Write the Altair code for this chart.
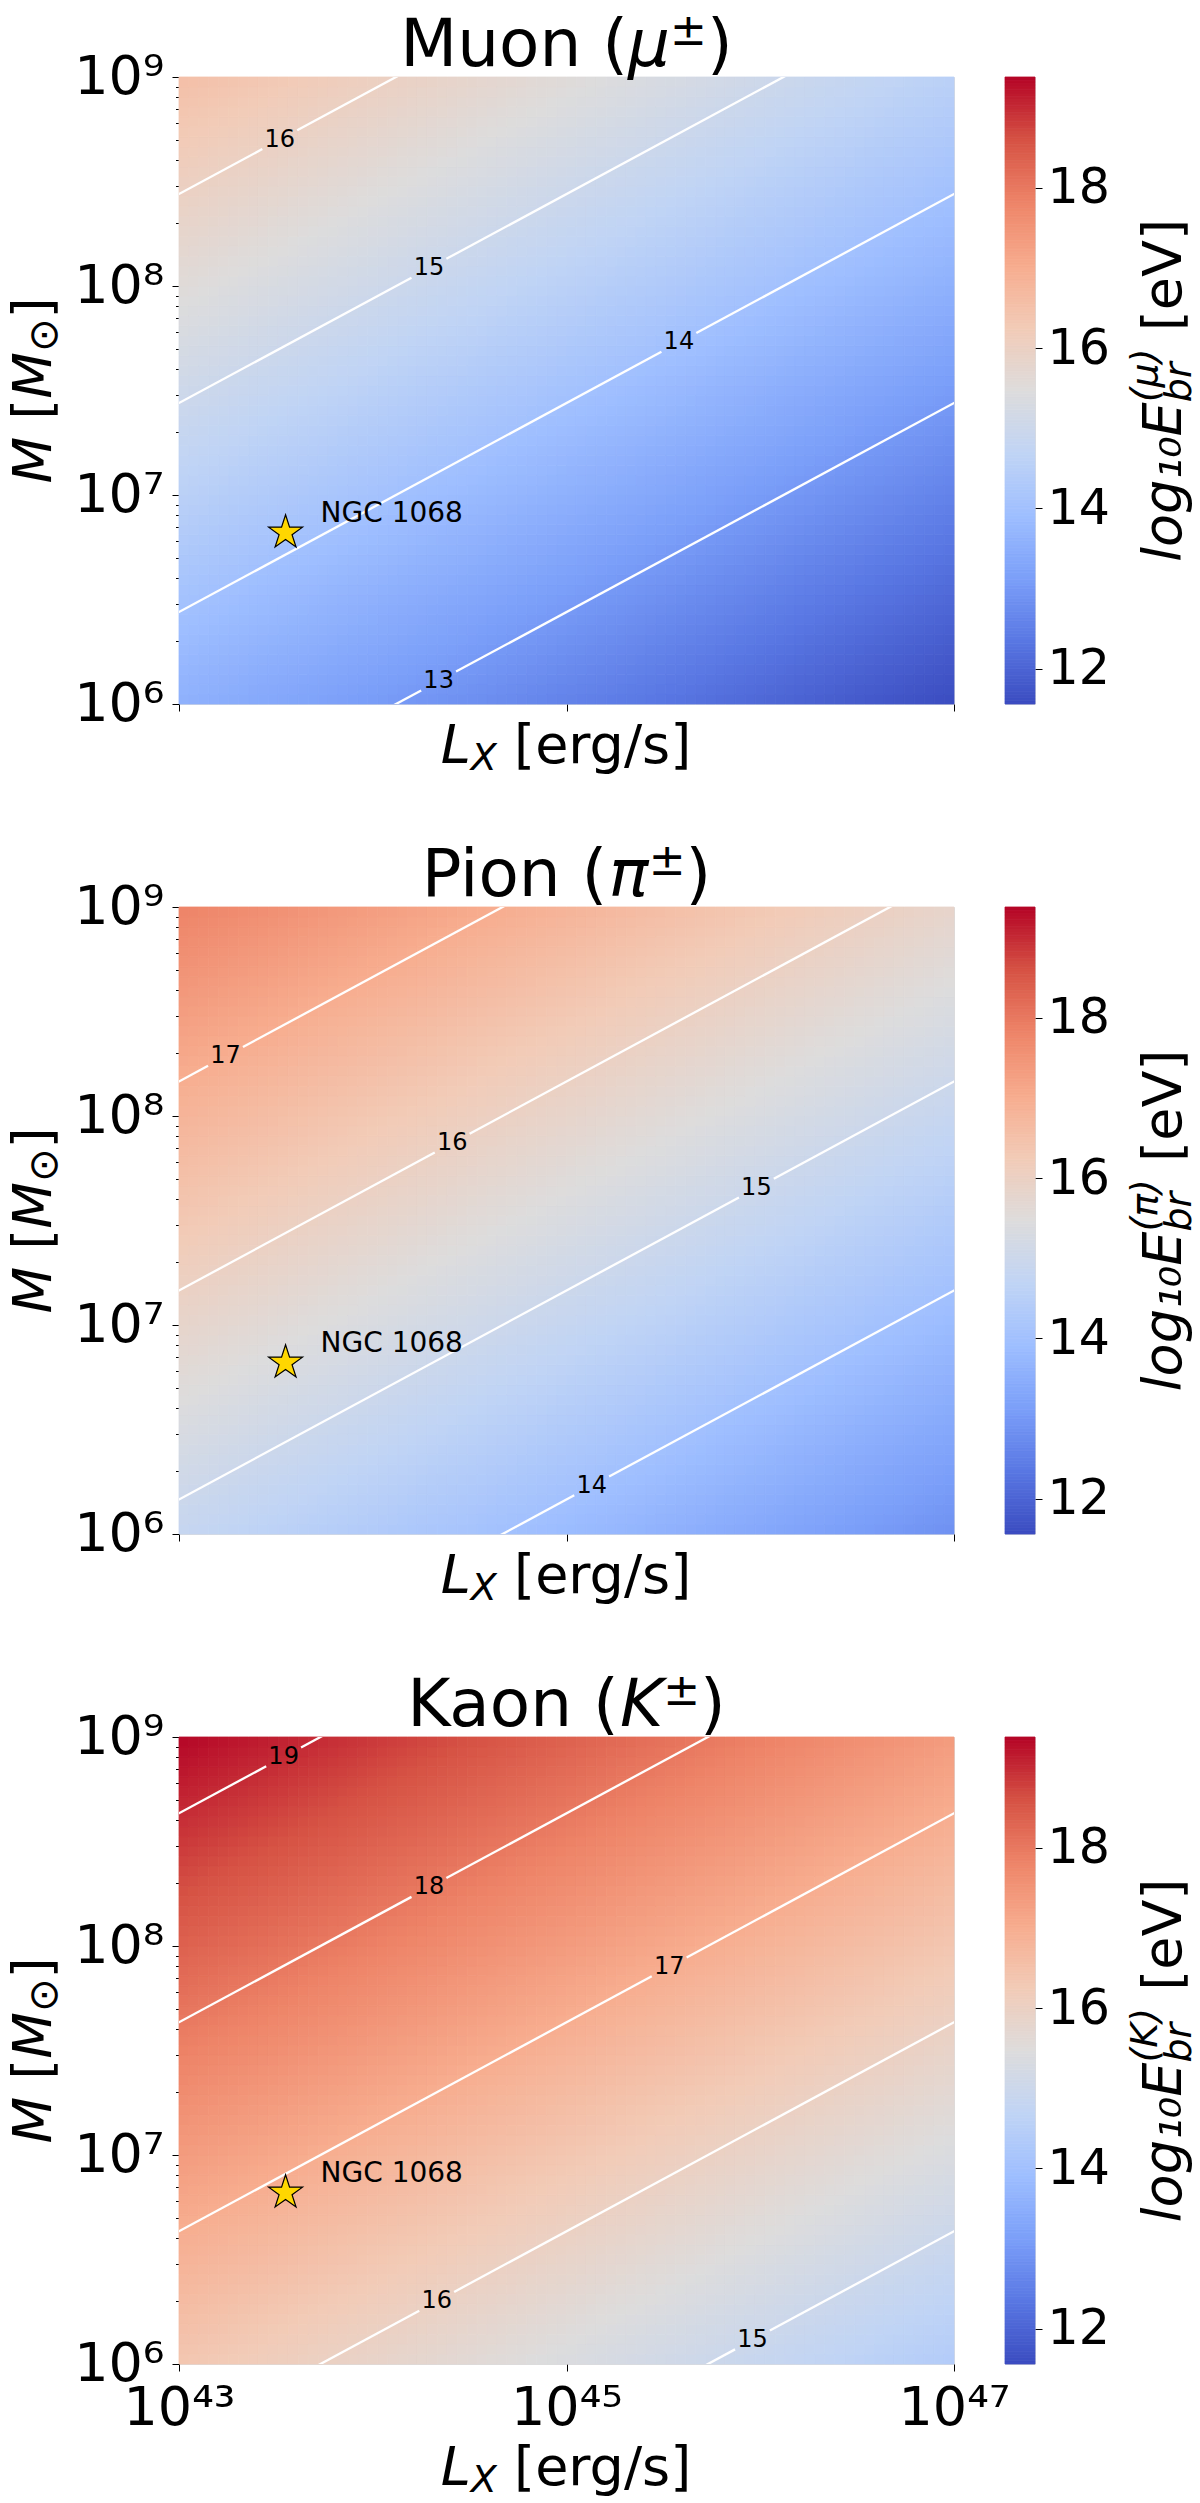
import altair as alt
import numpy as np
import pandas as pd

# ------------------------------------------------------------------ values
PANEL_NAMES = ["Muon", "Pion", "Kaon"]
PANEL_SYMBOLS = ["μ", "π", "K"]
LOGLX_RANGE = [43.0, 47.0]
LOGM_RANGE = [6.0, 9.0]
# log10 E_br at the top-left corner (L_X = 1e43 erg/s, M = 1e9 Msun)
E_AT_CORNER = [16.56, 17.835, 19.365]
DE_PER_DEX_M = 1.0     # contour levels are one decade of M apart
DE_PER_DEX_LX = -0.5   # contour slope
CONTOUR_LEVELS = [[13, 14, 15, 16], [14, 15, 16, 17], [15, 16, 17, 18, 19]]
CONTOUR_LABEL_LOGLX = [[44.34, 45.58, 44.29, 43.52],
                       [45.13, 45.98, 44.41, 43.24],
                       [45.96, 44.33, 45.53, 44.29, 43.54]]
SOURCE_NAME = ["NGC 1068"]
SOURCE_LOGLX = [43.55]
SOURCE_LOGM = [6.82]
X_TICKS = [43, 45, 47]
X_TICK_LABELS = ["10⁴³", "10⁴⁵", "10⁴⁷"]
Y_TICKS = [6, 7, 8, 9]
Y_TICK_LABELS = ["10⁶", "10⁷", "10⁸", "10⁹"]
Y_MINOR_MULT = [2, 3, 4, 5, 6, 7, 8, 9]
CBAR_TICKS = [12, 14, 16, 18]
CBAR_RANGE = [11.56, 19.38]
COOLWARM = ['#3b4cc0', '#5977e3', '#7b9ff9', '#9ebeff', '#c0d4f5', '#dddcdc',
            '#f2cbb7', '#f7ac8e', '#ee8468', '#d65244', '#b40426']

# ------------------------------------------------------------------ layout / style
FONT = "DejaVu Sans"
W, H = 775, 627
CB_W = 30
COL_GAP = 51
ROW_GAP = 203
TITLE_SIZE, SUP_SIZE = 66, 44
LABEL_SIZE, SUB_SIZE = 54, 38
CB_TICK_SIZE = 49
NX, NY = 78, 63
GAP = 0.09  # gap in the contour line around its label (dex of L_X)
STAR = ("M0,-1L0.2245,-0.309L0.951,-0.309L0.3633,0.118L0.588,0.809L0,0.382"
        "L-0.588,0.809L-0.3633,0.118L-0.951,-0.309L-0.2245,-0.309Z")

WIDTHS = {'M': .863, 'u': .634, 'o': .612, 'n': .634, ' ': .318, '(': .390, ')': .390,
          'P': .603, 'i': .278, 'K': .656, 'a': .613, 'μ': .636, 'π': .603, '±': .838,
          'L': .557, 'X': .685, '[': .390, ']': .390, 'e': .615, 'r': .411, 'g': .635,
          '/': .337, 's': .521, 'V': .684, 'l': .278, 'E': .632, 'b': .635, '₁': .401,
          '₀': .401, '⊙': .838}


def text_width(s, size):
    return sum(WIDTHS.get(ch, 0.6) for ch in s) * size


def e_field(i, logl, logm):
    return E_AT_CORNER[i] + DE_PER_DEX_M * (logm - 9.0) + DE_PER_DEX_LX * (logl - 43.0)


def m_on_contour(i, level, logl):
    return 9.0 + (level - E_AT_CORNER[i] - DE_PER_DEX_LX * (logl - 43.0)) / DE_PER_DEX_M


color_scale = alt.Scale(
    domain=[float(v) for v in np.linspace(CBAR_RANGE[0], CBAR_RANGE[1], len(COOLWARM))],
    range=COOLWARM, interpolate="rgb")

one = pd.DataFrame({"k": [0]})


def text_mark(text, x, y, size, italic=False, angle=0):
    kw = dict(text=text, font=FONT, fontSize=size, color="black", align="left",
              baseline="alphabetic")
    if italic:
        kw["fontStyle"] = "italic"
    if angle:
        kw["angle"] = angle
    return alt.Chart(one).mark_text(**kw).encode(x=alt.value(x), y=alt.value(y))


def piece_advance(p):
    text, size, italic, shift, adv = p
    return text_width(text, size) if adv is None else adv


def pieces_marks(pieces, x0, y0, rotated=False):
    out, pos = [], 0.0
    for p in pieces:
        text, size, italic, shift, adv = p
        stripped = text.lstrip(" ")
        lead = (len(text) - len(stripped)) * WIDTHS[" "] * size
        if rotated:
            out.append(text_mark(stripped, x0 + shift, y0 - pos - lead, size, italic, angle=270))
        else:
            out.append(text_mark(stripped, x0 + pos + lead, y0 + shift, size, italic))
        pos += piece_advance(p)
    return out


def total_advance(pieces):
    return sum(piece_advance(p) for p in pieces)


def label_expr(values, labels):
    expr = "''"
    for v, lab in reversed(list(zip(values, labels))):
        expr = f"datum.value === {v} ? '{lab}' : ({expr})"
    return expr


y_values = sorted([float(v) for v in Y_TICKS] +
                  [float(np.log10(k) + n) for n in Y_TICKS[:-1] for k in Y_MINOR_MULT])

xs = alt.Scale(domain=LOGLX_RANGE, nice=False, zero=False)
ys = alt.Scale(domain=LOGM_RANGE, nice=False, zero=False)


def main_panel(i, show_xlabels):
    xaxis = alt.Axis(values=X_TICKS, labels=show_xlabels,
                     labelExpr=label_expr(X_TICKS, X_TICK_LABELS),
                     labelFont=FONT, labelFontSize=LABEL_SIZE, labelColor="black",
                     labelPadding=10, labelFlush=False, labelOverlap=False,
                     tickSize=7, tickColor="black", tickWidth=1,
                     domain=False, grid=False, title=None)
    yaxis = alt.Axis(values=y_values, labelExpr=label_expr(Y_TICKS, Y_TICK_LABELS),
                     labelFont=FONT, labelFontSize=LABEL_SIZE, labelColor="black",
                     labelPadding=8, labelFlush=False, labelOverlap=False,
                     tickSize={"condition": {"test": "datum.value % 1 === 0", "value": 7},
                               "value": 3.5},
                     tickColor="black", tickWidth=1, domain=False, grid=False, title=None)

    # heat map cells
    le = np.linspace(LOGLX_RANGE[0], LOGLX_RANGE[1], NX + 1)
    me = np.linspace(LOGM_RANGE[0], LOGM_RANGE[1], NY + 1)
    rows = []
    for a in range(NX):
        for b in range(NY):
            lc, mc = 0.5 * (le[a] + le[a + 1]), 0.5 * (me[b] + me[b + 1])
            rows.append((le[a], le[a + 1], me[b], me[b + 1], e_field(i, lc, mc)))
    heat_df = pd.DataFrame(rows, columns=["l0", "l1", "m0", "m1", "e"])

    heat = alt.Chart(heat_df).mark_rect(strokeWidth=0.8).encode(
        x=alt.X("l0:Q", scale=xs, axis=xaxis), x2="l1:Q",
        y=alt.Y("m0:Q", scale=ys, axis=yaxis), y2="m1:Q",
        color=alt.Color("e:Q", scale=color_scale, legend=None),
        stroke=alt.Stroke("e:Q", scale=color_scale, legend=None))

    # contour lines (broken around their labels) and labels
    line_rows, lab_rows = [], []
    for level, llab in zip(CONTOUR_LEVELS[i], CONTOUR_LABEL_LOGLX[i]):
        for seg, (la, lb) in enumerate([(42.5, llab - GAP), (llab + GAP, 47.5)]):
            for l in (la, lb):
                line_rows.append((f"{level}-{seg}", l, m_on_contour(i, level, l)))
        lab_rows.append((str(level), llab, m_on_contour(i, level, llab)))
    line_df = pd.DataFrame(line_rows, columns=["seg", "l", "m"])
    lab_df = pd.DataFrame(lab_rows, columns=["txt", "l", "m"])

    lines = alt.Chart(line_df).mark_line(color="white", strokeWidth=2.3, clip=True).encode(
        x=alt.X("l:Q", scale=xs, axis=xaxis), y=alt.Y("m:Q", scale=ys, axis=yaxis),
        detail="seg:N", order="l:Q")
    labels = alt.Chart(lab_df).mark_text(font=FONT, fontSize=24, color="black",
                                         align="center", baseline="middle").encode(
        x=alt.X("l:Q", scale=xs, axis=xaxis), y=alt.Y("m:Q", scale=ys, axis=yaxis),
        text="txt:N")

    src_df = pd.DataFrame({"name": SOURCE_NAME, "l": SOURCE_LOGLX, "m": SOURCE_LOGM})
    star = alt.Chart(src_df).mark_point(shape=STAR, size=1270, filled=True, fill="#FFD700",
                                        stroke="black", strokeWidth=1.2, opacity=1).encode(
        x=alt.X("l:Q", scale=xs, axis=xaxis), y=alt.Y("m:Q", scale=ys, axis=yaxis))
    src_txt = alt.Chart(src_df).mark_text(font=FONT, fontSize=28, color="black", align="left",
                                          baseline="middle", dx=35, dy=-19).encode(
        x=alt.X("l:Q", scale=xs, axis=xaxis), y=alt.Y("m:Q", scale=ys, axis=yaxis),
        text="name:N")

    # title:  Name (sym^±)
    tp = [(f"{PANEL_NAMES[i]} (", TITLE_SIZE, False, 0, None),
          (PANEL_SYMBOLS[i], TITLE_SIZE, True, 0, None),
          ("±", SUP_SIZE, False, -21, None),
          (")", TITLE_SIZE, False, 0, None)]
    title = pieces_marks(tp, W / 2 - total_advance(tp) / 2, -11)

    # x title:  L_X [erg/s]
    xp = [("L", LABEL_SIZE, True, 0, None), ("X", SUB_SIZE, True, 7, None),
          (" [erg/s]", LABEL_SIZE, False, 0, None)]
    xt = pieces_marks(xp, W / 2 - total_advance(xp) / 2, H + (121 if show_xlabels else 59))

    # y title:  M [M_⊙]
    yp = [("M", LABEL_SIZE, True, 0, None), (" [", LABEL_SIZE, False, 0, None),
          ("M", LABEL_SIZE, True, 0, None), ("⊙", 40, False, 6, None),
          ("]", LABEL_SIZE, False, 0, None)]
    yt = pieces_marks(yp, -128, H / 2 + total_advance(yp) / 2, rotated=True)

    return alt.layer(heat, lines, labels, star, src_txt, *title, *xt, *yt).properties(
        width=W, height=H)


def colorbar(i):
    edges = np.linspace(CBAR_RANGE[0], CBAR_RANGE[1], 197)
    cb_df = pd.DataFrame({"v0": edges[:-1], "v1": edges[1:],
                          "vm": 0.5 * (edges[:-1] + edges[1:])})
    cb_axis = alt.Axis(orient="right", values=CBAR_TICKS, format="d", tickSize=7,
                       tickColor="black", labelFont=FONT, labelFontSize=CB_TICK_SIZE,
                       labelColor="black", labelPadding=5, labelFlush=False,
                       labelOverlap=False, domain=False, grid=False, title=None)
    bar = alt.Chart(cb_df).mark_rect(strokeWidth=0.8).encode(
        x=alt.value(0), x2=alt.value(CB_W),
        y=alt.Y("v0:Q", scale=alt.Scale(domain=CBAR_RANGE, nice=False, zero=False),
                axis=cb_axis),
        y2="v1:Q",
        color=alt.Color("vm:Q", scale=color_scale, legend=None),
        stroke=alt.Stroke("vm:Q", scale=color_scale, legend=None))
    sup = f"({PANEL_SYMBOLS[i]})"
    wsup = text_width(sup, SUB_SIZE)
    wsub = text_width("br", SUB_SIZE)
    cp = [("log₁₀E", LABEL_SIZE, True, 0, None),
          (sup, SUB_SIZE, True, -24, 0),
          ("br", SUB_SIZE, True, 10, max(wsup, wsub)),
          (" [eV]", LABEL_SIZE, False, 0, None)]
    ct = pieces_marks(cp, 176, H / 2 + total_advance(cp) / 2, rotated=True)
    return alt.layer(bar, *ct).properties(width=CB_W, height=H)


charts = []
for i in range(3):
    charts.append(main_panel(i, show_xlabels=(i == 2)))
    charts.append(colorbar(i))

chart = alt.concat(*charts, columns=2, spacing={"row": ROW_GAP, "column": COL_GAP},
                   bounds="flush",
                   padding={"left": 7, "top": 9, "right": 0, "bottom": 0}
                   ).configure_view(stroke="black", strokeWidth=1).configure(font=FONT)

chart.save("out.html", embed_options={"renderer": "svg", "actions": False})
